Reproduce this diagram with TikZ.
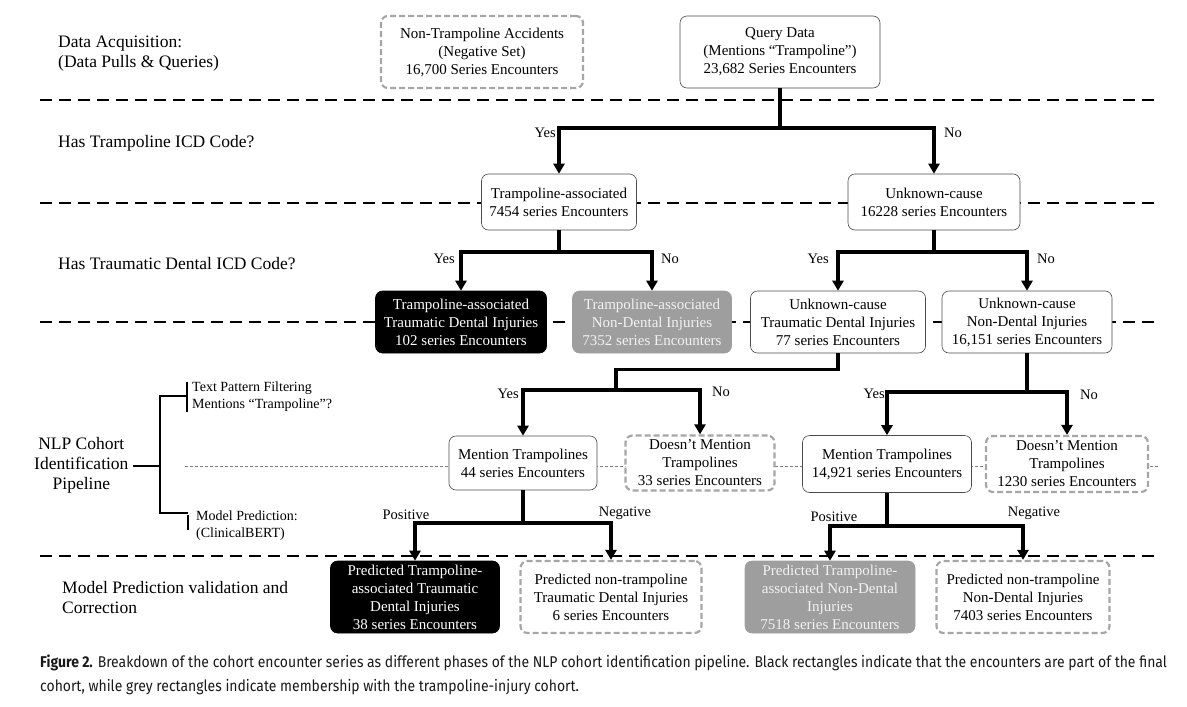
\documentclass[tikz,border=0pt]{standalone}
\usepackage{fontspec}
\setmainfont{Liberation Serif}
\newfontfamily\capfont[FakeStretch=0.895]{Fira Sans}
\usetikzlibrary{arrows.meta, calc}

\begin{document}
\begin{tikzpicture}[x=1pt, y=-1pt,
  box/.style={draw=black!70, line width=0.6pt, rounded corners=7pt, fill=white,
    align=center, inner sep=0pt, font=\fontsize{15}{18}\selectfont},
  negbox/.style={box, draw=black!35, line width=2.2pt, dash pattern=on 6pt off 3pt},
  finalbox/.style={box, draw=black, fill=black, text=white},
  cohortbox/.style={box, draw=black!38, fill=black!38, text=black!5},
  conn/.style={line width=3.2pt, -{Triangle[width=11pt,length=10pt]}},
  phase/.style={dash pattern=on 12pt off 7pt, line width=1.6pt},
  dotline/.style={black!50, dash pattern=on 3pt off 2pt, line width=0.6pt},
  stage/.style={anchor=west, align=left, inner sep=0pt, font=\fontsize{17.5}{20}\selectfont},
  lbl/.style={inner sep=0pt, font=\fontsize{14.5}{18}\selectfont},
  sub/.style={anchor=west, align=left, inner sep=0pt, font=\fontsize{14}{17}\selectfont},
]
  \useasboundingbox (0,0) rectangle (1187,707);
  % Phase separators
  \foreach \y in {100, 203, 322, 556}
    \draw[phase] (40,\y) -- (1158,\y);
  \draw[dotline] (185,466) -- (1158,466);

  % Phase labels
  \node[stage] (acq) at (58,54) {Data Acquisition:\\(Data Pulls \& Queries)};
  \node[stage] (icd) at (58,143) {Has Trampoline ICD Code?};
  \node[stage] (dent) at (58,264) {Has Traumatic Dental ICD Code?};
  \node[stage, align=center] (nlp) at (34,465) {NLP Cohort\\Identification\\Pipeline};
  \node[stage] (valid) at (62,598) {Model Prediction validation and\\Correction};

  % NLP bracket
  \node[sub] (tpf) at (192,397) {Text Pattern Filtering\\Mentions “Trampoline”?};
  \node[sub] (mp) at (196,526) {Model Prediction:\\(ClinicalBERT)};
  \draw[line width=1.4pt] (133,466) -- (160,466);
  \draw[line width=1.4pt] (186,396) -| (160,513) -- (188,513);
  \draw[line width=1.4pt] ([xshift=-5pt]tpf.north west) -- ([xshift=-5pt]tpf.south west);
  \draw[line width=1.4pt] ([xshift=-8pt,yshift=-4pt]mp.north west) -- ([xshift=-8pt,yshift=-4pt]mp.west);

  % Data acquisition
  \node[negbox, minimum width=202pt, minimum height=72pt] (neg) at (482,52)
    {Non-Trampoline Accidents\\(Negative Set)\\16,700 Series Encounters};
  \node[box, minimum width=200pt, minimum height=72pt] (query) at (780,52)
    {Query Data\\(Mentions “Trampoline”)\\23,682 Series Encounters};

  % ICD code split
  \node[box, minimum width=155pt, minimum height=56pt] (tramp) at (559,202)
    {Trampoline-associated\\7454 series Encounters};
  \node[box, minimum width=172pt, minimum height=56pt] (unk) at (934,202)
    {Unknown-cause\\16228 series Encounters};

  % Dental code split
  \node[finalbox, minimum width=171pt, minimum height=62pt] (ttdi) at (461,322)
    {Trampoline-associated\\Traumatic Dental Injuries\\102 series Encounters};
  \node[cohortbox, minimum width=159pt, minimum height=62pt] (tnd) at (652,322)
    {Trampoline-associated\\Non-Dental Injuries\\7352 series Encounters};
  \node[box, minimum width=175pt, minimum height=62pt] (utdi) at (838,322)
    {Unknown-cause\\Traumatic Dental Injuries\\77 series Encounters};
  \node[box, minimum width=170pt, minimum height=62pt] (und) at (1027,322)
    {Unknown-cause\\Non-Dental Injuries\\16,151 series Encounters};

  % Text pattern filtering
  \node[box, minimum width=148pt, minimum height=54pt] (ment1) at (523,463)
    {Mention Trampolines\\44 series Encounters};
  \node[negbox, minimum width=149pt, minimum height=55pt] (nment1) at (700,463)
    {Doesn’t Mention\\Trampolines\\33 series Encounters};
  \node[box, minimum width=169pt, minimum height=57pt] (ment2) at (887,464)
    {Mention Trampolines\\14,921 series Encounters};
  \node[negbox, minimum width=162pt, minimum height=56pt] (nment2) at (1067,464)
    {Doesn’t Mention\\Trampolines\\1230 series Encounters};

  % Model prediction
  \node[finalbox, minimum width=169pt, minimum height=72pt] (pos1) at (415,597)
    {Predicted Trampoline-\\associated Traumatic\\Dental Injuries\\38 series Encounters};
  \node[negbox, minimum width=181pt, minimum height=72pt] (neg1) at (611,597)
    {Predicted non-trampoline\\Traumatic Dental Injuries\\6 series Encounters};
  \node[cohortbox, minimum width=170pt, minimum height=72pt] (pos2) at (830,597)
    {Predicted Trampoline-\\associated Non-Dental\\Injuries\\7518 series Encounters};
  \node[negbox, minimum width=173pt, minimum height=72pt] (neg2) at (1023,597)
    {Predicted non-trampoline\\Non-Dental Injuries\\7403 series Encounters};

  % Branch points
  \coordinate (s1) at (query.south |- 0,128);
  \coordinate (s2) at (tramp.south |- 0,252);
  \coordinate (s3) at (unk.south |- 0,252);
  \coordinate (s4) at (616,390);
  \coordinate (s5) at (und.south |- 0,392);
  \coordinate (s6) at (ment1.south |- 0,523);
  \coordinate (s7) at (ment2.south |- 0,526);

  % Connectors
  \draw[conn] (query.south) -- (s1) -| (tramp.north);
  \draw[conn] (s1) -| (unk.north);
  \draw[conn] (tramp.south) -- (s2) -| (ttdi.north);
  \draw[conn] (s2) -| (tnd.north);
  \draw[conn] (unk.south) -- (s3) -| (utdi.north);
  \draw[conn] (s3) -| (und.north);
  \draw[conn] (utdi.south) -- ++(0,16) -| (s4) -| (ment1.north);
  \draw[conn] (s4) -| (nment1.north);
  \draw[conn] (und.south) -- (s5) -| (ment2.north);
  \draw[conn] (s5) -| (nment2.north);
  \draw[conn] (ment1.south) -- (s6) -| (pos1.north);
  \draw[conn] (s6) -| (neg1.north);
  \draw[conn] (ment2.south) -- (s7) -| (pos2.north);
  \draw[conn] (s7) -| (neg2.north);

  % Branch labels
  \node[lbl, anchor=east] at ($(tramp.north |- s1)+(-3,5)$) {Yes};
  \node[lbl, anchor=west] at ($(unk.north |- s1)+(10,5)$) {No};
  \node[lbl, anchor=east] at ($(ttdi.north |- s2)+(-6,7)$) {Yes};
  \node[lbl, anchor=west] at ($(tnd.north |- s2)+(9,7)$) {No};
  \node[lbl, anchor=east] at ($(utdi.north |- s3)+(-9,7)$) {Yes};
  \node[lbl, anchor=west] at ($(und.north |- s3)+(10,7)$) {No};
  \node[lbl, anchor=east] at ($(ment1.north |- s4)+(-4,4)$) {Yes};
  \node[lbl, anchor=west] at ($(nment1.north |- s4)+(12,2)$) {No};
  \node[lbl, anchor=east] at ($(ment2.north |- s5)+(-2,2)$) {Yes};
  \node[lbl, anchor=west] at ($(nment2.north |- s5)+(13,3)$) {No};
  \node[lbl, anchor=south] at ($(pos1.north |- s6)+(-9,-3)$) {Positive};
  \node[lbl, anchor=south] at ($(neg1.north |- s6)+(14,-3)$) {Negative};
  \node[lbl, anchor=south] at ($(pos2.north |- s7)+(4,-4)$) {Positive};
  \node[lbl, anchor=south] at ($(neg2.north |- s7)+(11,-6)$) {Negative};

  % Caption
  \node[anchor=north west, align=left, inner sep=0pt, text=black!90,
    font=\capfont\fontsize{15.6}{24}\selectfont] (cap) at (40,655)
    {\textbf{Figure 2.} Breakdown of the cohort encounter series as different phases of the NLP cohort identification pipeline. Black rectangles indicate that the encounters are part of the final\\
     cohort, while grey rectangles indicate membership with the trampoline-injury cohort.};
\end{tikzpicture}
\end{document}
